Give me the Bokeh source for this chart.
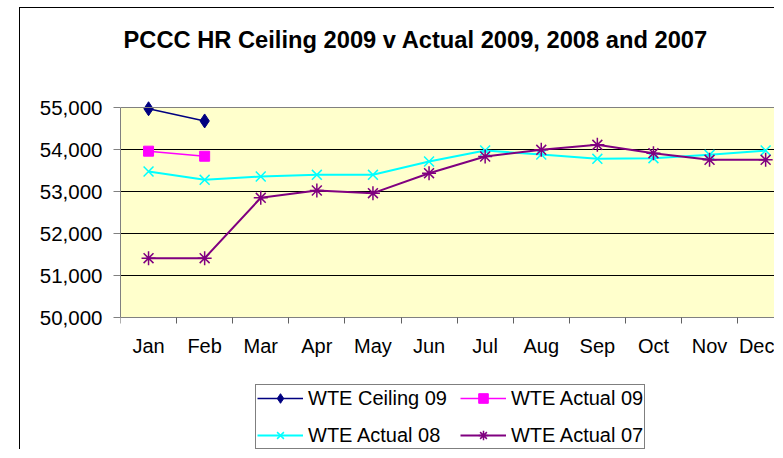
from bokeh.plotting import figure
from bokeh.models import (Range1d, FixedTicker, NumeralTickFormatter, Legend, LegendItem,
                          Span, BoxAnnotation, Label)
from bokeh.embed import file_html
from bokeh.resources import INLINE

months = ["Jan", "Feb", "Mar", "Apr", "May", "Jun", "Jul", "Aug", "Sep", "Oct", "Nov", "Dec"]
ceiling_09 = [54970, 54680]
actual_09 = [53960, 53840]
actual_08 = [53476, 53278, 53357, 53397, 53397, 53714, 53976, 53880, 53778, 53793, 53873, 53976]
actual_07 = [51412, 51412, 52850, 53024, 52960, 53436, 53833, 53992, 54111, 53912, 53754, 53754]
y_ticks = [50000, 51000, 52000, 53000, 54000, 55000]
title_text = "PCCC HR Ceiling 2009 v Actual 2009, 2008 and 2007"

xc = [i + 0.5 for i in range(len(months))]

FONT = "Liberation Sans"

# layout constants (page pixels)
OX, OY = 20, 8                 # chart area origin (outer border)
PLOT_L, PLOT_T, PLOT_B = 120, 107, 317
PAGE_R, PAGE_B = 775, 450
CAT_W = 56.1                   # px per month
PX_PER_UNIT = (PLOT_B - PLOT_T) / (y_ticks[-1] - y_ticks[0])

y_end = y_ticks[-1] + (PLOT_T - OY) / PX_PER_UNIT
y_start = y_ticks[0] - (PAGE_B - PLOT_B) / PX_PER_UNIT
x_end = (PAGE_R - PLOT_L) / CAT_W

p = figure(width=PAGE_R - OX, height=PAGE_B - OY, output_backend="svg", toolbar_location=None,
           x_range=Range1d(0, x_end), y_range=Range1d(y_start, y_end),
           min_border_left=PLOT_L - OX, min_border_top=0, min_border_right=0, min_border_bottom=0)
p.margin = (OY - 1, 0, 0, OX - 1)
p.styles = {"border-left": "1px solid black", "border-top": "1px solid black"}

p.background_fill_color = "white"
p.border_fill_color = "white"
p.outline_line_color = None

# plot area
p.add_layout(BoxAnnotation(bottom=y_ticks[0], top=y_ticks[-1], fill_color="#FFFFCC",
                           fill_alpha=1, line_color=None, level="image"))
p.add_layout(Span(location=y_ticks[-1], dimension="width", line_color="#808080", line_width=1))

# title
p.add_layout(Label(x=(123 - PLOT_L) / CAT_W, y=y_ticks[-1] + (PLOT_T - 39) / PX_PER_UNIT,
                   text=title_text, text_font=FONT, text_font_size="23.7px",
                   text_font_style="bold", text_color="black",
                   text_align="left", text_baseline="alphabetic"))

# axes
xa = p.xaxis[0]
xa.fixed_location = y_ticks[0]
xa.ticker = FixedTicker(ticks=xc, minor_ticks=list(range(len(months) + 1)))
xa.major_label_overrides = {x: m for x, m in zip(xc, months)}
xa.major_tick_out = 0
xa.major_tick_in = 0
xa.minor_tick_out = 6
xa.minor_tick_in = 0
xa.minor_tick_line_color = "#606060"
xa.axis_line_color = "#808080"
xa.major_label_text_font = FONT
xa.major_label_text_font_size = "20px"
xa.major_label_text_color = "black"
xa.major_label_standoff = 11

ya = p.yaxis[0]
ya.bounds = (y_ticks[0], y_ticks[-1])
ya.ticker = FixedTicker(ticks=y_ticks, minor_ticks=[])
ya.formatter = NumeralTickFormatter(format="0,0")
ya.major_tick_out = 7
ya.major_tick_in = 0
ya.minor_tick_out = 0
ya.major_tick_line_color = "#808080"
ya.axis_line_color = "#808080"
ya.major_label_text_font = FONT
ya.major_label_text_font_size = "20.5px"
ya.major_label_text_color = "black"
ya.major_label_standoff = 11

p.xgrid.grid_line_color = None
p.ygrid.ticker = FixedTicker(ticks=y_ticks[1:-1])
p.ygrid.grid_line_color = "black"
p.ygrid.grid_line_width = 1

# series
r1l = p.line(xc[:len(ceiling_09)], ceiling_09, line_color="#000080", line_width=1.5)
r1m = p.scatter(xc[:len(ceiling_09)], ceiling_09, marker="diamond", size=14,
                fill_color="#000080", line_color="#000080")
r2l = p.line(xc[:len(actual_09)], actual_09, line_color="#FF00FF", line_width=1.5)
r2m = p.scatter(xc[:len(actual_09)], actual_09, marker="square", size=10,
                fill_color="#FF00FF", line_color="#FF00FF")
r3l = p.line(xc, actual_08, line_color="#00FFFF", line_width=2)
r3m = p.scatter(xc, actual_08, marker="x", size=14, line_color="#00FFFF", line_width=1.5)
r4l = p.line(xc, actual_07, line_color="#800080", line_width=2)
r4m = p.scatter(xc, actual_07, marker="asterisk", size=14, line_color="#800080", line_width=1.5)

# column-major fill: column 1 = Ceiling 09 / Actual 08, column 2 = Actual 09 / Actual 07
legend = Legend(items=[
    LegendItem(label="WTE Ceiling 09", renderers=[r1l, r1m]),
    LegendItem(label="WTE Actual 08", renderers=[r3l, r3m]),
    LegendItem(label="WTE Actual 09", renderers=[r2l, r2m]),
    LegendItem(label="WTE Actual 07", renderers=[r4l, r4m]),
], ncols=2, location=(255 - PLOT_L, 1))
legend.label_text_font = FONT
legend.label_text_font_size = "20px"
legend.label_text_color = "black"
legend.glyph_width = 46
legend.glyph_height = 24
legend.label_standoff = 5
legend.spacing = 13
legend.padding = 1
legend.margin = 0
legend.border_line_color = "black"
legend.border_line_width = 1
legend.background_fill_color = "white"
legend.background_fill_alpha = 1
p.add_layout(legend, "center")

open("out.html", "w").write(file_html(p, INLINE))
